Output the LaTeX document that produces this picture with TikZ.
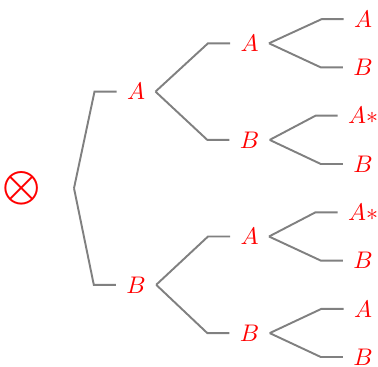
\documentclass[tikz,border=0pt]{standalone}
\begin{document}
\begin{tikzpicture}[x=0.41667pt, y=-0.41667pt,
  lbl/.style={text=red, inner xsep=4.17pt, inner ysep=0pt,
              text height=6.83pt, text depth=0pt},
  branch/.style={draw=gray, line width=0.8pt}]
  \useasboundingbox (0,0) rectangle (378,366);

  % root
  \node[text=red, inner sep=0pt] (root) at (22,188) {$\displaystyle\bigotimes$};
  \coordinate (fork0) at (74,188.2);

  % first level
  \node[lbl] (a) at (136,91.6)  {$A$};
  \node[lbl] (b) at (136,284.8) {$B$};

  % second level
  \node[lbl] (aa) at (249.5,43.3)  {$A$};
  \node[lbl] (ab) at (249.5,139.9) {$B$};
  \node[lbl] (ba) at (249.5,236.5) {$A$};
  \node[lbl] (bb) at (249.5,333.1) {$B$};

  % third level
  \node[lbl] (aaa) at (363,19.2)  {$A$};
  \node[lbl] (aab) at (363,67.4)  {$B$};
  \node[lbl] (aba) at (363,115.7) {$A*$};
  \node[lbl] (abb) at (363,164.0) {$B$};
  \node[lbl] (baa) at (363,212.3) {$A*$};
  \node[lbl] (bab) at (363,260.6) {$B$};
  \node[lbl] (bba) at (363,308.8) {$A$};
  \node[lbl] (bbb) at (363,357.0) {$B$};

  % fork-shaped edges
  \foreach \c in {a,b}
    \draw[branch] (fork0) -- ([xshift=-9.17pt]\c.west) -- (\c.west);
  \foreach \p/\c in {a/aa, a/ab, b/ba, b/bb,
                     aa/aaa, aa/aab, ab/aba, ab/abb,
                     ba/baa, ba/bab, bb/bba, bb/bbb}
    \draw[branch] (\p.east) -- ([xshift=-9.17pt]\c.west) -- (\c.west);
\end{tikzpicture}
\end{document}
